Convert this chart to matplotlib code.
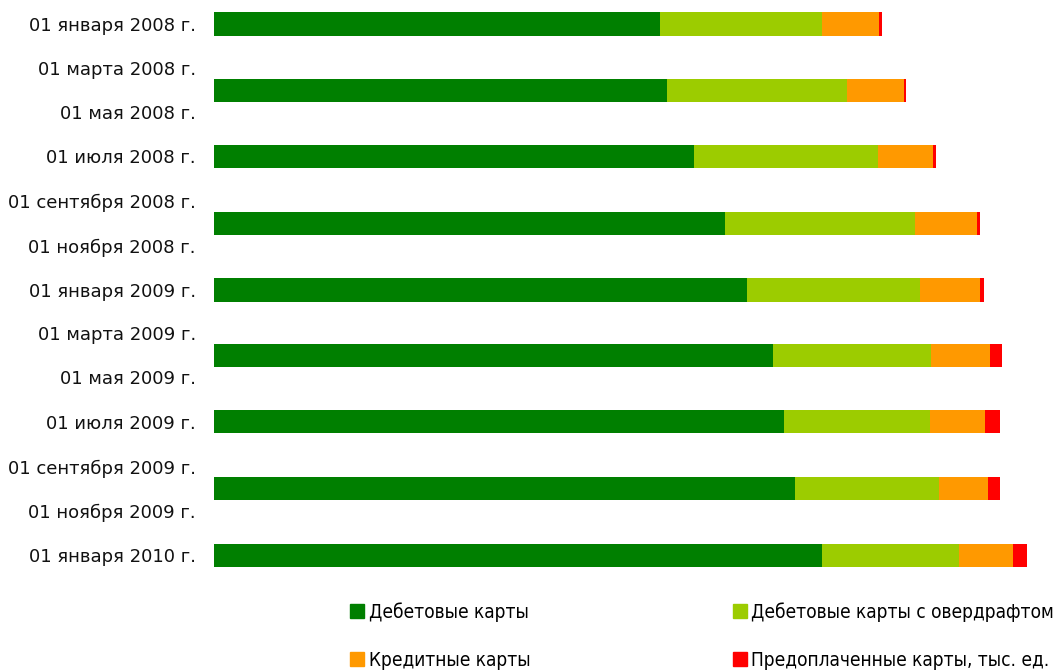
import datetime as dt
import matplotlib
matplotlib.use("Agg")
import matplotlib.pyplot as plt
import matplotlib.dates as mdates
from matplotlib.patches import Patch

# Даты столбцов (поквартально) и значения, тыс. ед.
bar_dates = [dt.date(2008, 1, 1), dt.date(2008, 4, 1), dt.date(2008, 7, 1),
             dt.date(2008, 10, 1), dt.date(2009, 1, 1), dt.date(2009, 4, 1),
             dt.date(2009, 7, 1), dt.date(2009, 10, 1), dt.date(2010, 1, 1)]
debit = [69100, 70200, 74400, 79200, 82600, 86600, 88400, 90100, 94200]
debit_overdraft = [25100, 27900, 28500, 29400, 26800, 24500, 22600, 22200, 21200]
credit = [8800, 8800, 8500, 9600, 9300, 9100, 8500, 7600, 8500]
prepaid = [460, 310, 460, 460, 620, 1860, 2320, 1860, 2170]

series_names = ["Дебетовые карты", "Дебетовые карты с овердрафтом",
                "Кредитные карты", "Предоплаченные карты, тыс. ед."]
colors = ["#007f00", "#9ccc00", "#ff9900", "#ff0000"]

# Подписи оси дат (каждые два месяца)
tick_dates = [dt.date(2008, m, 1) for m in (1, 3, 5, 7, 9, 11)] + \
             [dt.date(2009, m, 1) for m in (1, 3, 5, 7, 9, 11)] + [dt.date(2010, 1, 1)]
tick_labels = ["01 января 2008 г.", "01 марта 2008 г.", "01 мая 2008 г.",
               "01 июля 2008 г.", "01 сентября 2008 г.", "01 ноября 2008 г.",
               "01 января 2009 г.", "01 марта 2009 г.", "01 мая 2009 г.",
               "01 июля 2009 г.", "01 сентября 2009 г.", "01 ноября 2009 г.",
               "01 января 2010 г."]

fig = plt.figure(figsize=(10.56, 6.71), dpi=100)
ax = fig.add_axes([214 / 1056, 1 - 580 / 671, 1 - 214 / 1056, 580 / 671])

y = mdates.date2num(bar_dates)
left = [0] * len(y)
for vals, c in zip([debit, debit_overdraft, credit, prepaid], colors):
    ax.barh(y, vals, height=31.7, left=left, color=c, linewidth=0)
    left = [l + v for l, v in zip(left, vals)]

ax.set_ylim(mdates.date2num(dt.date(2010, 1, 1)) + 34,
            mdates.date2num(dt.date(2008, 1, 1)) - 33)
ax.set_xlim(0, 130500)
ax.set_yticks(mdates.date2num(tick_dates))
ax.set_yticklabels(tick_labels, fontsize=13, color="#111111")
ax.tick_params(axis="y", length=0, pad=13)
ax.set_xticks([])
for s in ax.spines.values():
    s.set_visible(False)

handles = [Patch(color=colors[0]), Patch(color=colors[2]),
           Patch(color=colors[1]), Patch(color=colors[3])]
labels = [series_names[0], series_names[2], series_names[1], series_names[3]]
fig.legend(handles, labels, loc="upper left", bbox_to_anchor=(333 / 1056, 1 - 585 / 671),
           ncol=2, frameon=False, handlelength=0.72, handleheight=0.72,
           handletextpad=0.25, labelspacing=1.52, columnspacing=10.65,
           prop={"family": "DejaVu Sans", "stretch": "condensed", "size": 13.7})

fig.savefig("out.png", dpi=100)
